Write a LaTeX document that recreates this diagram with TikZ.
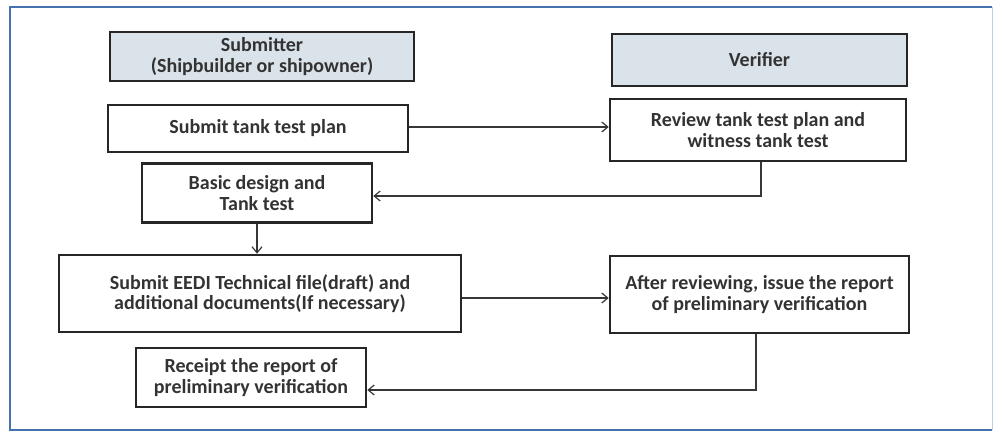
\documentclass[tikz,border=0pt]{standalone}
\usepackage{fontspec}
\setmainfont{Carlito}
\usetikzlibrary{arrows.meta}
\definecolor{frameblue}{RGB}{70,115,175}
\definecolor{headfill}{RGB}{218,226,234}
\definecolor{linegray}{RGB}{55,55,55}
\tikzset{
  x=1pt, y=-1pt,
  box/.style={draw=black!85, line width=2.6pt, rectangle, align=center, inner sep=0pt,
    font=\bfseries\fontsize{20}{20.5}\selectfont, text=black!80},
  head/.style={box, fill=headfill},
  conn/.style={draw=linegray, line width=1.4pt, -{Straight Barb[length=6pt,width=10pt,line width=1.2pt]}},
}
\begin{document}
\begin{tikzpicture}
\useasboundingbox (0,0) rectangle (1002,433);
\fill[white] (0,0) rectangle (1002,433);
% frame
\draw[frameblue, line width=2pt] (992,7.5) -- (10,7.5) -- (10,430) -- (992,430);
\draw[frameblue!35, line width=1pt] (992,7.5) -- (992,430);
% nodes
\node[head, minimum width=304pt, minimum height=49pt] (sub) at (262,56.5) {Submitter\\(Shipbuilder or shipowner)};
\node[head, minimum width=295pt, minimum height=52pt] (ver) at (759.5,60) {Verifier};
\node[box, minimum width=300pt, minimum height=47pt] (plan) at (258,128.5) {Submit tank test plan};
\node[box, minimum width=296pt, minimum height=62pt] (rev) at (758,130) {Review tank test plan and\\witness tank test};
\node[box, minimum width=230pt, minimum height=59pt] (basic) at (257,193) {Basic design and\\Tank test};
\node[box, minimum width=402pt, minimum height=77pt] (eedi) at (260,293.5) {Submit EEDI Technical file(draft) and\\additional documents(If necessary)};
\node[box, minimum width=299pt, minimum height=77pt] (after) at (759.5,294.5) {After reviewing, issue the report\\of preliminary verification};
\node[box, minimum width=230pt, minimum height=59pt] (rec) at (251,377.5) {Receipt the report of\\preliminary verification};
% connectors
\draw[conn] ([yshift=1.5pt]plan.east) -- ([yshift=1.5pt]plan.east -| rev.west);
\draw[conn] ([xshift=3pt]rev.south) |- ([yshift=-3pt]basic.east);
\draw[conn] (basic.south) -- (basic.south |- eedi.north);
\draw[conn] ([yshift=-4.5pt]eedi.east) -- ([yshift=-4.5pt]eedi.east -| after.west);
\draw[conn] ([xshift=-3.5pt]after.south) |- ([yshift=-12.5pt]rec.east);
\end{tikzpicture}
\end{document}
